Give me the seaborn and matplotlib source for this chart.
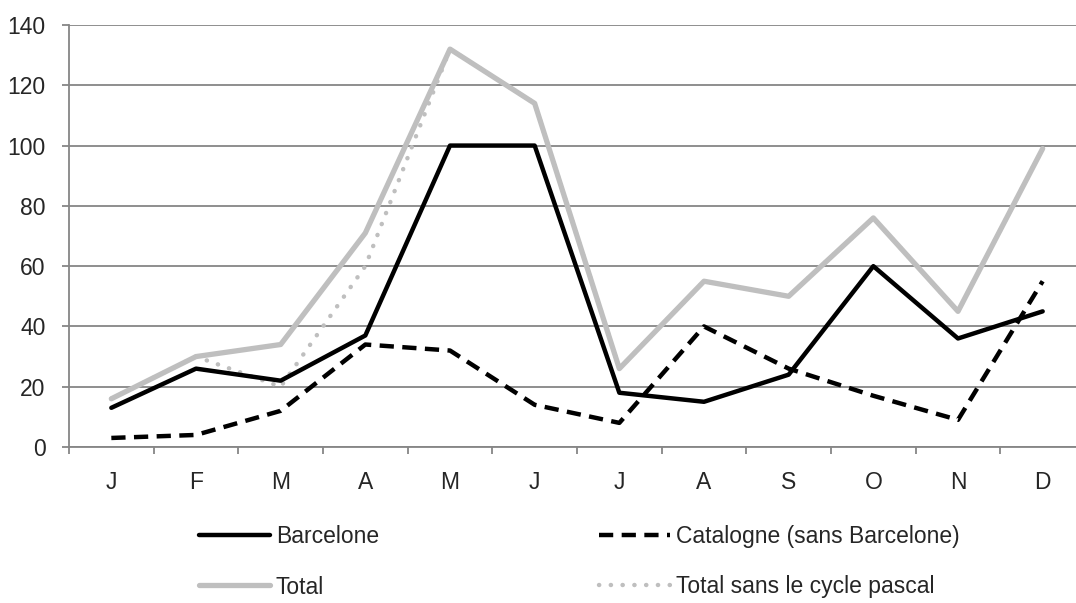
import numpy as np
import pandas as pd
import matplotlib
matplotlib.use("Agg")
import matplotlib.pyplot as plt
import seaborn as sns
from matplotlib.lines import Line2D

# données
mois = ["J", "F", "M", "A", "M", "J", "J", "A", "S", "O", "N", "D"]
barcelone = [13, 26, 22, 37, 100, 100, 18, 15, 24, 60, 36, 45]
catalogne = [3, 4, 12, 34, 32, 14, 8, 40, 26, 17, 9, 55]
total = [16, 30, 34, 71, 132, 114, 26, 55, 50, 76, 45, 99]
total_sans_paques = [16, 30, 20, 60, 132, 114, 26, 55, 50, 76, 45, 99]

sns.set_style("white")
plt.rcParams["font.family"] = ["Liberation Sans Narrow", "Liberation Sans", "DejaVu Sans"]
plt.rcParams["font.size"] = 16.5

pos = np.arange(len(mois))
df = pd.DataFrame({"pos": pos, "Barcelone": barcelone, "Catalogne": catalogne,
                   "Total": total, "TotalSP": total_sans_paques})

gris = "#bfbfbf"
axe = "#868686"
tirets = (0, (3.2, 1.9))
points = (0, (0.05, 2.6))

fig = plt.figure(figsize=(10.76, 6.03), dpi=100)
ax = fig.add_axes([69 / 1076, 156 / 603, 1016 / 1076, 422 / 603])

sns.lineplot(data=df, x="pos", y="TotalSP", ax=ax, color=gris, lw=3.2,
             linestyle=points, dash_capstyle="round", zorder=2)
sns.lineplot(data=df, x="pos", y="Total", ax=ax, color=gris, lw=3.8, zorder=3)
sns.lineplot(data=df, x="pos", y="Catalogne", ax=ax, color="black", lw=3.2,
             linestyle=tirets, zorder=4)
sns.lineplot(data=df, x="pos", y="Barcelone", ax=ax, color="black", lw=3.2, zorder=5)

ax.set_xlim(-0.5, len(mois) - 0.5)
ax.set_ylim(0, 140)
ax.set_yticks(range(0, 141, 20))
ax.set_xticks(pos)
ax.set_xticklabels(mois)
ax.set_xticks(np.arange(-0.5, len(mois), 1), minor=True)
ax.set_xlabel("")
ax.set_ylabel("")

ax.grid(axis="y", color=axe, lw=1.3)
ax.set_axisbelow(True)
for s in ["top", "right"]:
    ax.spines[s].set_visible(False)
for s in ["left", "bottom"]:
    ax.spines[s].set_color(axe)
    ax.spines[s].set_linewidth(1.3)

ax.tick_params(axis="y", length=5, width=1.3, color=axe, pad=12, left=True)
ax.tick_params(axis="x", which="major", length=0, pad=17)
ax.tick_params(axis="x", which="minor", length=5, width=1.3, color=axe, bottom=True)

# ordre colonne par colonne pour avoir Barcelone / Catalogne sur la première ligne
handles = [
    Line2D([], [], color="black", lw=3.2),
    Line2D([], [], color=gris, lw=3.8),
    Line2D([], [], color="black", lw=3.2, linestyle=tirets),
    Line2D([], [], color=gris, lw=3.2, linestyle=points, dash_capstyle="round"),
]
labels = ["Barcelone", "Total", "Catalogne (sans Barcelone)", "Total sans le cycle pascal"]
fig.legend(handles, labels, ncol=2, loc="upper left", frameon=False,
           bbox_to_anchor=(199 / 1076, 1 - 525 / 603), borderpad=0, borderaxespad=0,
           handlelength=3.1, handletextpad=0.25, columnspacing=9.62, labelspacing=1.2)

fig.savefig("out.png", dpi=100)
